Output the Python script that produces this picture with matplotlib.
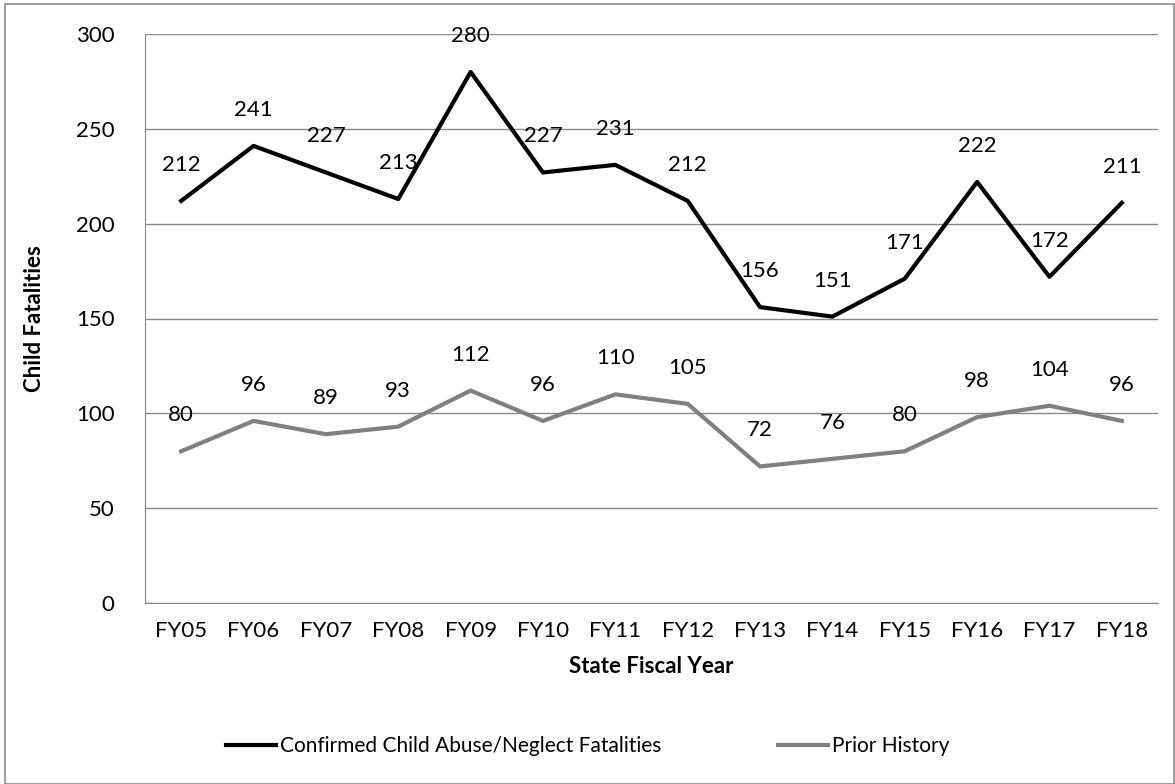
import matplotlib.pyplot as plt
from matplotlib.patches import Rectangle

years = ['FY05', 'FY06', 'FY07', 'FY08', 'FY09', 'FY10', 'FY11',
         'FY12', 'FY13', 'FY14', 'FY15', 'FY16', 'FY17', 'FY18']
confirmed = [212, 241, 227, 213, 280, 227, 231, 212, 156, 151, 171, 222, 172, 211]
prior_history = [80, 96, 89, 93, 112, 96, 110, 105, 72, 76, 80, 98, 104, 96]

plt.rcParams['font.family'] = ['Lato', 'DejaVu Sans']

fig = plt.figure(figsize=(11.75, 7.84), dpi=100)
# plot area in pixels: left 145, right 1158, top 34, bottom 603
ax = fig.add_axes([145 / 1175, 1 - 603 / 784, 1013 / 1175, 569 / 784])

# chart border
fig.patches.append(Rectangle((5 / 1175, 0), 1 - 5 / 1175 - 1 / 1175, 1 - 4 / 784,
                             transform=fig.transFigure, fill=False,
                             edgecolor='#8c8c8c', linewidth=1.2))

x = list(range(len(years)))
ax.plot(x, confirmed, color='black', linewidth=3,
        label='Confirmed Child Abuse/Neglect Fatalities', zorder=3)
ax.plot(x, prior_history, color='#808080', linewidth=3,
        label='Prior History', zorder=3)

for xi, v in zip(x, confirmed):
    ax.annotate(str(v), (xi, v), xytext=(0, 36), textcoords='offset pixels',
                ha='center', va='center', fontsize=16)
for xi, v in zip(x, prior_history):
    ax.annotate(str(v), (xi, v), xytext=(0, 36), textcoords='offset pixels',
                ha='center', va='center', fontsize=16)

ax.set_xlim(-0.5, len(years) - 0.5)
ax.set_ylim(0, 300)
ax.set_yticks(range(0, 301, 50))
ax.set_xticks(x)
ax.set_xticklabels(years)
ax.tick_params(axis='both', length=0, labelsize=16, pad=13)
ax.tick_params(axis='y', pad=22)
ax.grid(axis='y', color='#8a8a8a', linewidth=1)
ax.set_axisbelow(True)
for s in ['top', 'right']:
    ax.spines[s].set_visible(False)
ax.spines['left'].set_color('#8a8a8a')
ax.spines['bottom'].set_color('#8a8a8a')

ax.set_xlabel('State Fiscal Year', fontsize=16, fontweight='bold', labelpad=11)
ax.set_ylabel('Child Fatalities', fontsize=16, fontweight='bold', labelpad=22)

leg = fig.legend(loc='center', bbox_to_anchor=(0.5, 1 - 746 / 784), ncol=2,
                 frameon=False, fontsize=15, handlelength=2.4, handletextpad=0.2,
                 columnspacing=5.6)

fig.savefig('out.png', dpi=100)
